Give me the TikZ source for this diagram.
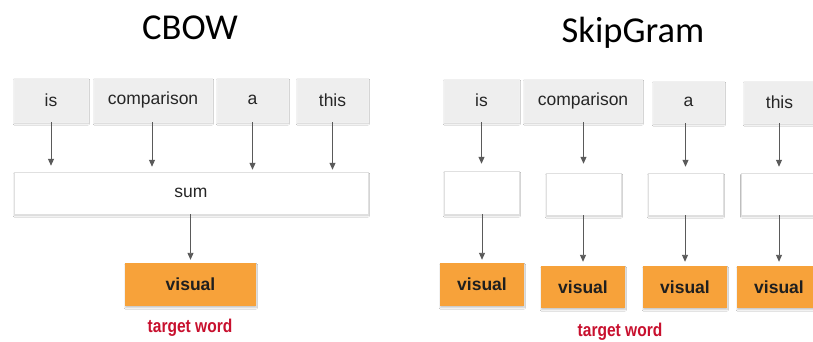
\documentclass[tikz,border=0pt]{standalone}
\usepackage{fontspec}
\setmainfont{Liberation Sans}
\newfontfamily\titlefont{Carlito}
\newfontfamily\narrowfont[FakeStretch=0.84]{Liberation Sans}
\usetikzlibrary{arrows.meta,shadows.blur}

\definecolor{boxgray}{HTML}{EEEEEE}
\definecolor{boxorange}{HTML}{F7A23A}
\definecolor{arrowgray}{HTML}{5A5A5A}
\definecolor{labelred}{HTML}{C8102E}
\definecolor{txt}{HTML}{262626}

\tikzset{
  softshadow/.style={blur shadow={shadow xshift=0.3pt, shadow yshift=-1.8pt,
      shadow blur steps=6, shadow blur radius=1.3pt, shadow opacity=22}},
  wordbox/.style={softshadow, fill=boxgray, draw=black!6, line width=0.5pt,
      inner sep=0pt, text=txt, font=\fontsize{17.5}{20}\selectfont},
  hidbox/.style={softshadow, fill=white, draw=black!12, line width=0.5pt,
      inner sep=0pt, text=txt, font=\fontsize{17.5}{20}\selectfont},
  outbox/.style={softshadow, fill=boxorange, inner sep=0pt, text=black!88,
      font=\fontsize{17.5}{20}\selectfont\bfseries},
  titletext/.style={font=\titlefont\fontsize{36.5}{40}\selectfont, text=black},
  targettext/.style={font=\narrowfont\bfseries\fontsize{18.5}{21}\selectfont, text=labelred},
  arr/.style={draw=arrowgray, line width=0.9pt,
      -{Triangle[length=7pt,width=6pt]}},
}

\begin{document}
\begin{tikzpicture}[x=1pt,y=-1pt]
\useasboundingbox (0,0) rectangle (813,341);
\clip (0,0) rectangle (813,341);
\fill[white] (0,0) rectangle (813,341);

% ---------------- CBOW ----------------
\node[titletext] (tc) at (190,28) {CBOW};

\node[wordbox, minimum width=74pt, minimum height=44pt] (c1) at (51,100) {is};
\node[wordbox, minimum width=118pt, minimum height=44pt] (c2) at (153,100) {comparison};
\node[wordbox, minimum width=71pt, minimum height=44pt] (c3) at (252.5,100) {a};
\node[wordbox, minimum width=71pt, minimum height=44pt] (c4) at (332.5,100) {this};

\node[hidbox, minimum width=354pt, minimum height=42pt] (sum) at (191,193) {sum};

\node[outbox, minimum width=131pt, minimum height=43pt] (cv) at (190.5,284.5) {visual};
\node[targettext] (ct) at (190,328) {target word};

\draw[arr, shorten >=6pt] (c1.south) -- (c1.south |- sum.north);
\draw[arr, shorten >=5pt] ([xshift=-1pt]c2.south) -- ([xshift=-1pt]c2.south |- sum.north);
\draw[arr, shorten >=2pt] (c3.south) -- (c3.south |- sum.north);
\draw[arr, shorten >=2pt] (c4.south) -- (c4.south |- sum.north);
\draw[arr, shorten >=3pt] (sum.south -| cv.north) -- (cv.north);

% ---------------- SkipGram ----------------
\node[titletext] (ts) at (633,33) {SkipGram};

\node[wordbox, minimum width=75pt, minimum height=43pt] (s1) at (481.5,100.5) {is};
\node[wordbox, minimum width=118pt, minimum height=43pt] (s2) at (583,100.5) {comparison};
\node[wordbox, minimum width=71pt, minimum height=42pt] (s3) at (688.5,102) {a};
\node[wordbox, minimum width=71pt, minimum height=42pt] (s4) at (779.5,102) {this};

\node[hidbox, minimum width=75pt, minimum height=43pt] (h1) at (481.5,192.5) {};
\node[hidbox, minimum width=75pt, minimum height=42pt] (h2) at (583.5,194) {};
\node[hidbox, minimum width=75pt, minimum height=42pt] (h3) at (685.5,194) {};
\node[hidbox, minimum width=75pt, minimum height=42pt] (h4) at (779,194) {};

\node[outbox, minimum width=84pt, minimum height=43pt] (v1) at (482,284.5) {visual};
\node[outbox, minimum width=84pt, minimum height=42pt] (v2) at (583,287) {visual};
\node[outbox, minimum width=84pt, minimum height=42pt] (v3) at (685,287) {visual};
\node[outbox, minimum width=84pt, minimum height=42pt] (v4) at (779,287) {visual};

\node[targettext] (st) at (620,332) {target word};

\draw[arr, shorten >=7pt] (s1.south -| h1.north) -- (h1.north);
\draw[arr, shorten >=9pt] (s2.south -| h2.north) -- (h2.north);
\draw[arr, shorten >=6pt] (s3.south -| h3.north) -- (h3.north);
\draw[arr, shorten >=6pt] (s4.south -| h4.north) -- (h4.north);

\draw[arr, shorten >=3pt] (h1.south -| v1.north) -- (v1.north);
\draw[arr, shorten >=4pt] (h2.south -| v2.north) -- (v2.north);
\draw[arr, shorten >=4pt] (h3.south -| v3.north) -- (v3.north);
\draw[arr, shorten >=4pt] (h4.south -| v4.north) -- (v4.north);
\end{tikzpicture}
\end{document}
